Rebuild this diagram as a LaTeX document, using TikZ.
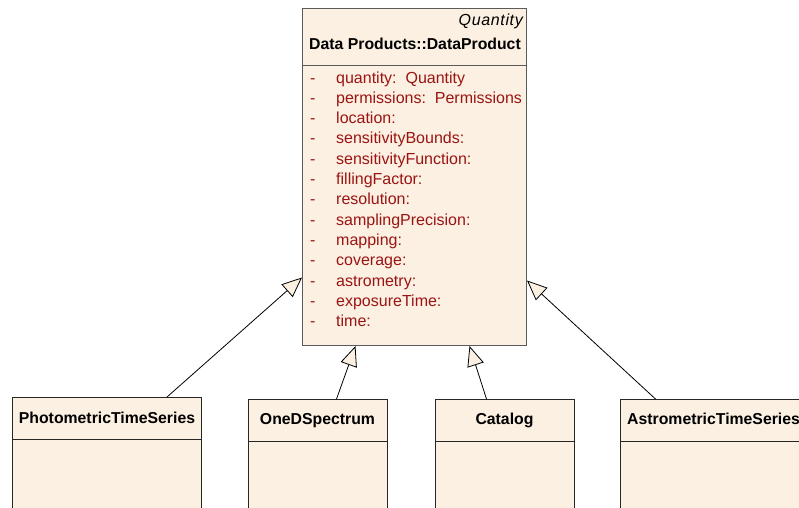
\documentclass[tikz,border=0pt]{standalone}
\usepackage{fontspec}
\setmainfont{Liberation Sans}
\usepackage{tikz}
\usetikzlibrary{arrows.meta,positioning}
\definecolor{classfill}{RGB}{251,240,225}
\definecolor{attrred}{RGB}{155,20,20}
\definecolor{boxgray}{RGB}{90,90,90}
\tikzset{
	classbox/.style={draw=boxgray, fill=classfill, inner sep=0pt, line width=1pt, anchor=north west},
	subbox/.style={classbox, draw=black!85, minimum height=200pt},
	classname/.style={anchor=base, inner sep=0pt, font=\fontsize{15.8}{18}\selectfont\bfseries},
	attr/.style={anchor=base west, inner sep=0pt, text=attrred},
	inherit/.style={-{Triangle[length=20pt,width=17pt,fill=classfill,line width=0.8pt]}, line width=0.8pt},
}

\begin{document}
\begin{tikzpicture}[x=1pt,y=-1pt,font=\fontsize{16}{19}\selectfont]
		\useasboundingbox (0,0) rectangle (799,507);
		\clip (0,0) rectangle (799,507);
		%DataProduct
		\node [classbox, minimum width=224pt, minimum height=337pt] (dp) at (302,8) {};
		\draw [boxgray, line width=1pt] ([yshift=-57pt]dp.north west) -- ([yshift=-57pt]dp.north east);
		\node [anchor=base east, inner sep=0pt] (stereo) at (523,25) {\itshape\addfontfeatures{LetterSpace=4}Quantity};
		\node [classname] (dpname) at (415,49) {Data Products::DataProduct};
		%Attributi
		\foreach \attr [count=\i from 0] in {quantity:\ \ Quantity, permissions:\ \ Permissions, location:, sensitivityBounds:, sensitivityFunction:, fillingFactor:, resolution:, samplingPrecision:, mapping:, coverage:, astrometry:, exposureTime:, time:}
		{
			\node [attr] (dash\i) at (310,83+20.3*\i) {-};
			\node [attr] (attr\i) at (336,83+20.3*\i) {\attr};
		}
		%Sottoclassi
		\node [subbox, minimum width=189pt] (pts) at (12,397) {};
		\node [subbox, minimum width=139pt] (ods) at (248,399) {};
		\node [subbox, minimum width=139pt] (cat) at (435,399) {};
		\node [subbox, minimum width=230pt] (ats) at (620,399) {};
		\node [classname] (ptsname) at (107,423) {PhotometricTimeSeries};
		\node [classname] (odsname) at (317.5,424) {OneDSpectrum};
		\node [classname] (catname) at (504.5,424) {Catalog};
		\node [classname, anchor=base west] (atsname) at (627,424) {AstrometricTimeSeries};
		\draw [black!85] ([yshift=-42pt]pts.north west) -- ([yshift=-42pt]pts.north east);
		\draw [black!85] ([yshift=-42pt]ods.north west) -- ([yshift=-42pt]ods.north east);
		\draw [black!85] ([yshift=-42pt]cat.north west) -- ([yshift=-42pt]cat.north east);
		\draw [black!85] ([yshift=-42pt]ats.north west) -- ([yshift=-42pt]ats.north east);
		%Generalizzazioni
		\draw [inherit] ([xshift=60pt]pts.north) -- ([yshift=-100.5pt]dp.west);
		\draw [inherit] ([xshift=18.5pt]ods.north) -- ([xshift=-59pt]dp.south);
		\draw [inherit] ([xshift=-18.5pt]cat.north) -- ([xshift=55pt]dp.south);
		\draw [inherit] ([xshift=-80pt]ats.north) -- ([yshift=-103.5pt]dp.east);
	\end{tikzpicture}
\end{document}
